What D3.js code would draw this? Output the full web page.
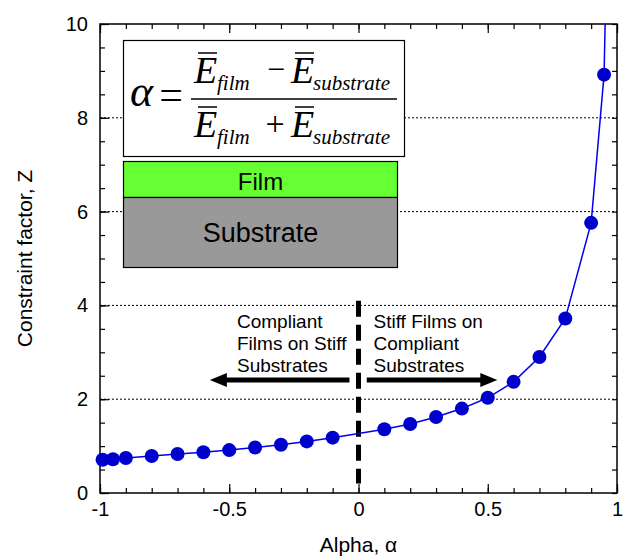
<!DOCTYPE html>
<html><head><meta charset="utf-8">
<script src="https://cdn.jsdelivr.net/npm/d3@7"></script>
<style>body{margin:0;background:#fff} svg{display:block}</style>
</head><body><svg id="chart" width="626" height="557"></svg>
<script>
// ---- data ----
const alphaValues = [-0.99,-0.95,-0.9,-0.8,-0.7,-0.6,-0.5,-0.4,-0.3,-0.2,-0.1,0.1,0.2,0.3,0.4,0.5,0.6,0.7,0.8,0.9,0.95];
const zValues     = [0.71,0.72,0.745,0.79,0.83,0.87,0.915,0.97,1.03,1.10,1.18,1.36,1.47,1.62,1.80,2.03,2.37,2.90,3.72,5.76,8.92];
const lineTailAlpha = [0.99];      // curve continues off the top of the plot
const lineTailZ     = [19.6];
const xTicks = [-1,-0.5,0,0.5,1];
const xTickLabels = ["-1","-0.5","0","0.5","1"];
const yTicks = [0,2,4,6,8,10];
const yTickLabels = ["0","2","4","6","8","10"];
const gridZ = [2,4,6,8];
const dividerAlpha = 0, dividerZ = [0.2, 4.1];
const arrowZ = 2.41;
const leftArrow = [-0.035, -0.575];
const rightArrow = [0.032, 0.537];
const leftNote = ["Compliant","Films on Stiff","Substrates"];
const rightNote = ["Stiff Films on","Compliant","Substrates"];

// ---- layout ----
const W = 626, H = 557;
const m = {left:100, right:9, top:24, bottom:64};
const svg = d3.select("#chart");
const x = d3.scaleLinear().domain([-1,1]).range([m.left, W-m.right]);
const y = d3.scaleLinear().domain([0,10]).range([H-m.bottom, m.top]);
const sans = "'Liberation Sans', Arial, Helvetica, sans-serif";
const serif = "'Liberation Serif', 'Times New Roman', serif";

svg.append("defs").append("clipPath").attr("id","clip")
  .append("rect").attr("x",x(-1)).attr("y",y(10)).attr("width",x(1)-x(-1)).attr("height",y(0)-y(10));

// gridlines
svg.append("g").selectAll("line").data(gridZ).join("line")
  .attr("x1",x(-1)).attr("x2",x(1)).attr("y1",d=>y(d)).attr("y2",d=>y(d))
  .attr("stroke","#000").attr("stroke-width",1).attr("stroke-dasharray","2,2");

// axes
function styleAxis(g){ g.select(".domain").remove(); g.selectAll("line").attr("stroke","#000").attr("stroke-width",1.2);
  g.selectAll("text").attr("font-family",sans).attr("font-size",20).attr("fill","#000"); }
const xMinor = d3.range(-10,11).map(i=>i/10);
const yMinor = d3.range(0,21).map(i=>i/2);
svg.append("g").attr("transform",`translate(0,${y(0)})`)
  .call(d3.axisBottom(x).tickValues(xMinor).tickFormat("").tickSizeInner(-5).tickSizeOuter(0)).call(styleAxis);
svg.append("g").attr("transform",`translate(0,${y(0)})`)
  .call(d3.axisBottom(x).tickValues(xTicks).tickFormat((d,i)=>xTickLabels[i]).tickSizeInner(-9).tickSizeOuter(0).tickPadding(9)).call(styleAxis);
svg.append("g").attr("transform",`translate(0,${y(10)})`)
  .call(d3.axisTop(x).tickValues(xMinor).tickFormat("").tickSizeInner(-5).tickSizeOuter(0)).call(styleAxis);
svg.append("g").attr("transform",`translate(0,${y(10)})`)
  .call(d3.axisTop(x).tickValues(xTicks).tickFormat("").tickSizeInner(-9).tickSizeOuter(0)).call(styleAxis);
svg.append("g").attr("transform",`translate(${x(-1)},0)`)
  .call(d3.axisLeft(y).tickValues(yMinor).tickFormat("").tickSizeInner(-5).tickSizeOuter(0)).call(styleAxis);
svg.append("g").attr("transform",`translate(${x(-1)},0)`)
  .call(d3.axisLeft(y).tickValues(yTicks).tickFormat((d,i)=>yTickLabels[i]).tickSizeInner(-9).tickSizeOuter(0).tickPadding(12)).call(styleAxis);
svg.append("g").attr("transform",`translate(${x(1)},0)`)
  .call(d3.axisRight(y).tickValues(yMinor).tickFormat("").tickSizeInner(-5).tickSizeOuter(0)).call(styleAxis);

// frame
svg.append("rect").attr("x",x(-1)).attr("y",y(10)).attr("width",x(1)-x(-1)).attr("height",y(0)-y(10))
  .attr("fill","none").attr("stroke","#000").attr("stroke-width",1.5);

// axis titles
svg.append("text").attr("x",(x(-1)+x(1))/2).attr("y",552).attr("text-anchor","middle")
  .attr("font-family",sans).attr("font-size",21).text("Alpha, α");
svg.append("text").attr("transform",`translate(32,${(y(0)+y(10))/2}) rotate(-90)`).attr("text-anchor","middle")
  .attr("font-family",sans).attr("font-size",21).text("Constraint factor, Z");

// ---- inset: formula box & film/substrate sketch ----
const inset = svg.append("g");
inset.append("rect").attr("x",123.5).attr("y",40.5).attr("width",281).attr("height",116)
  .attr("fill","#fff").attr("stroke","#000").attr("stroke-width",1.2);
inset.append("rect").attr("x",123.5).attr("y",161.5).attr("width",274).attr("height",36)
  .attr("fill","#66ff33").attr("stroke","#000").attr("stroke-width",1.2);
inset.append("rect").attr("x",123.5).attr("y",197.5).attr("width",274).attr("height",70)
  .attr("fill","#999999").attr("stroke","#000").attr("stroke-width",1.2);
inset.append("text").attr("x",260.5).attr("y",190).attr("text-anchor","middle")
  .attr("font-family",sans).attr("font-size",24).text("Film");
inset.append("text").attr("x",260.5).attr("y",242).attr("text-anchor","middle")
  .attr("font-family",sans).attr("font-size",27).text("Substrate");

// formula
const f = inset.append("g").attr("font-family",serif).attr("fill","#000");
f.append("text").attr("x",130).attr("y",106).attr("font-size",44).attr("font-style","italic").text("α");
f.append("text").attr("x",171).attr("y",109).attr("text-anchor","middle").attr("font-size",42).text("=");
f.append("line").attr("x1",191).attr("x2",397).attr("y1",99).attr("y2",99).attr("stroke","#000").attr("stroke-width",1.5);
function ebar(xe, base, sub, xs){
  f.append("text").attr("x",xe).attr("y",base).attr("font-size",38).attr("font-style","italic").text("E");
  f.append("line").attr("x1",xe+4).attr("x2",xe+23).attr("y1",base-30).attr("y2",base-30).attr("stroke","#000").attr("stroke-width",1.5);
  f.append("text").attr("x",xs).attr("y",base+7).attr("font-size",21).attr("font-style","italic").text(sub);
}
ebar(194, 83, "film", 217);
f.append("text").attr("x",276).attr("y",80).attr("text-anchor","middle").attr("font-size",32).text("−");
ebar(291, 83, "substrate", 313);
ebar(194, 137, "film", 217);
f.append("text").attr("x",275).attr("y",135).attr("text-anchor","middle").attr("font-size",34).text("+");
ebar(291, 137, "substrate", 313);

// ---- divider and arrows ----
svg.append("line").attr("x1",x(dividerAlpha)).attr("x2",x(dividerAlpha))
  .attr("y1",y(dividerZ[1])).attr("y2",y(dividerZ[0]))
  .attr("stroke","#000").attr("stroke-width",5).attr("stroke-dasharray","16,8");

function arrow(from, to){
  const x0 = x(from), x1 = x(to), yy = y(arrowZ), dir = Math.sign(x1-x0), head = 17, hw = 7;
  svg.append("line").attr("x1",x0).attr("x2",x1-dir*head+dir*1).attr("y1",yy).attr("y2",yy)
    .attr("stroke","#000").attr("stroke-width",5);
  svg.append("path").attr("d",`M${x1},${yy} L${x1-dir*head},${yy-hw} L${x1-dir*head},${yy+hw} Z`).attr("fill","#000");
}
arrow(leftArrow[0], leftArrow[1]);
arrow(rightArrow[0], rightArrow[1]);

svg.append("g").selectAll("text").data(leftNote).join("text")
  .attr("x",x(-0.47)).attr("y",(d,i)=>328+i*22.2).attr("font-family",sans).attr("font-size",19).text(d=>d);
svg.append("g").selectAll("text").data(rightNote).join("text")
  .attr("x",x(0.058)).attr("y",(d,i)=>328+i*22.2).attr("font-family",sans).attr("font-size",19).text(d=>d);

// ---- curve and markers ----
const linePts = alphaValues.map((a,i)=>[a,zValues[i]]).concat(lineTailAlpha.map((a,i)=>[a,lineTailZ[i]]));
svg.append("path").datum(linePts).attr("clip-path","url(#clip)")
  .attr("d",d3.line().x(d=>x(d[0])).y(d=>y(d[1])))
  .attr("fill","none").attr("stroke","#0000ee").attr("stroke-width",1.5);
svg.append("g").selectAll("circle").data(alphaValues).join("circle")
  .attr("cx",d=>x(d)).attr("cy",(d,i)=>y(zValues[i])).attr("r",7).attr("fill","#0000cc");
</script></body></html>
